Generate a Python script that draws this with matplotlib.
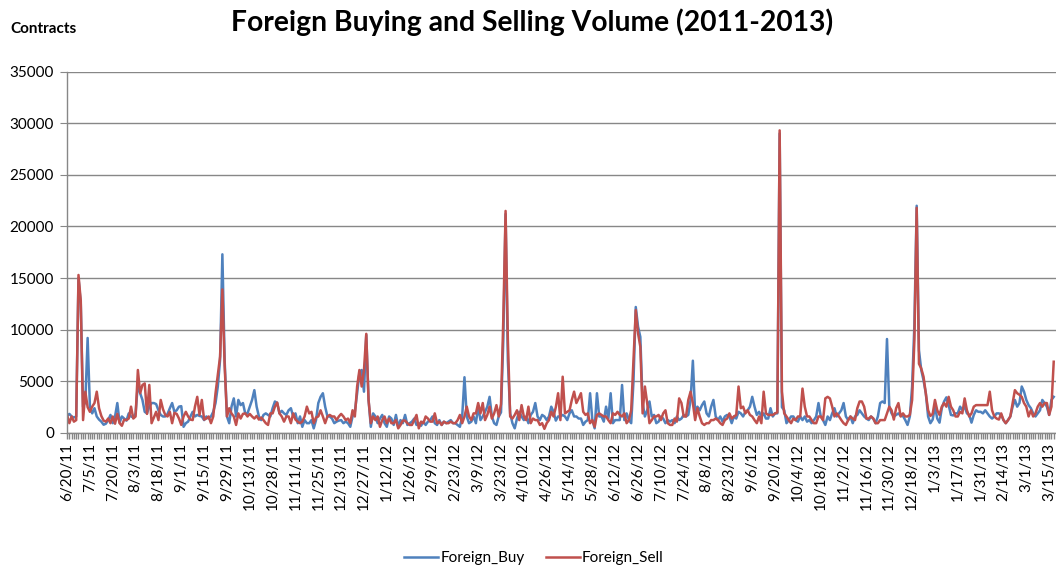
import numpy as np
import matplotlib
matplotlib.use("Agg")
import matplotlib.pyplot as plt

plt.rcParams['font.family'] = ['Lato', 'DejaVu Sans']

### data (daily contracts)

foreign_buy = [
    1650, 1850, 1600, 1500, 1600, 15000, 12500, 2550, 3000, 9200,
    2550, 1900, 2400, 1600, 1300, 1100, 800, 900, 1250, 1750,
    950, 1600, 2900, 1000, 1600, 1400, 1200, 1900, 1600, 1500,
    1900, 4800, 3850, 3200, 2050, 1900, 2550, 2900, 2900, 2800,
    2200, 1750, 1600, 1600, 1850, 2400, 2900, 2050, 2200, 2550,
    2600, 600, 950, 1100, 1600, 2050, 1600, 1750, 1650, 1600,
    1250, 1600, 1400, 1600, 2050, 2900, 4500, 7100, 17300, 7000,
    1600, 950, 2550, 3350, 1600, 3200, 2700, 2900, 1900, 1900,
    2550, 3200, 4150, 2550, 1600, 1250, 1750, 1900, 1750, 1600,
    2400, 3050, 2900, 1900, 2150, 1900, 1750, 2200, 2400, 1600,
    1900, 950, 1600, 600, 1250, 950, 950, 1250, 450, 1250,
    2900, 3500, 3850, 2550, 1600, 1600, 1400, 950, 1100, 1200,
    1250, 950, 1100, 950, 600, 1600, 2050, 3850, 5800, 6100,
    4000, 9500, 3200, 600, 1900, 1600, 950, 1400, 1750, 950,
    600, 1600, 1400, 780, 1750, 600, 1250, 950, 1750, 780,
    950, 1100, 1400, 780, 950, 700, 1100, 780, 1100, 1250,
    1600, 950, 780, 1250, 780, 1100, 950, 1100, 1250, 950,
    950, 780, 600, 1600, 5400, 1600, 950, 1100, 1600, 950,
    2550, 1250, 1600, 2050, 2550, 3500, 1600, 950, 780, 1600,
    2000, 9000, 21200, 7000, 1900, 950, 450, 1400, 2050, 1600,
    1250, 1600, 950, 1750, 2050, 2900, 1600, 1250, 1750, 1600,
    1250, 1600, 2550, 2050, 1200, 1600, 1600, 1750, 1600, 1250,
    1900, 2200, 1600, 1600, 1400, 1400, 780, 1100, 1250, 3850,
    1250, 450, 3850, 1600, 1600, 1100, 2550, 1400, 3850, 950,
    1250, 1250, 1250, 4650, 1250, 1900, 1250, 950, 5000, 12200,
    10300, 9300, 2900, 1600, 2200, 3050, 1600, 1750, 950, 1100,
    1600, 1400, 950, 1250, 1100, 1250, 950, 1600, 1250, 1400,
    1750, 1600, 1750, 3200, 7000, 1900, 2550, 2200, 2700, 3050,
    1900, 1600, 2550, 3200, 1600, 1250, 1600, 1100, 1600, 1750,
    1600, 950, 1600, 1400, 2050, 1900, 1600, 2050, 2200, 2550,
    3500, 2550, 1750, 2050, 1600, 1900, 1400, 1400, 2400, 1600,
    1900, 1900, 29000, 2500, 2200, 950, 1250, 1600, 1600, 1250,
    1100, 1600, 1250, 1600, 1100, 1250, 950, 1250, 1600, 2900,
    1600, 1250, 780, 1600, 1250, 1900, 2400, 1600, 1900, 2200,
    2900, 1600, 1250, 1600, 950, 1600, 1750, 2200, 1900, 1600,
    1400, 1250, 1600, 1400, 950, 1600, 2900, 3050, 2900, 9100,
    2550, 1900, 1600, 1750, 1900, 1650, 1650, 1250, 780, 1600,
    4500, 10500, 22000, 8000, 6100, 5100, 3850, 1600, 950, 1300,
    2550, 1400, 1000, 2400, 3050, 3450, 2700, 1750, 1700, 1900,
    1900, 2550, 2200, 2550, 1900, 1750, 1000, 1750, 2200, 2050,
    2050, 1900, 2200, 1900, 1600, 1400, 1600, 1900, 1900, 1750,
    1250, 950, 1250, 1600, 2550, 3200, 2550, 2900, 4500, 4000,
    3200, 2700, 2400, 1900, 1600, 1900, 2200, 3200, 2900, 2550,
    1750, 3200, 3500,
]

foreign_sell = [
    1750, 950, 1600, 1100, 1250, 15300, 12800, 1250, 4000, 2500,
    2050, 2550, 2900, 4000, 2400, 1650, 1200, 1100, 1400, 950,
    1600, 900, 1850, 950, 700, 1300, 1250, 1400, 2550, 1400,
    1600, 6100, 3850, 4650, 4800, 1850, 4650, 950, 1500, 2050,
    1250, 3200, 2300, 1750, 1600, 2050, 950, 1950, 1850, 1400,
    780, 1600, 2050, 1600, 1300, 1250, 2550, 3500, 1750, 3200,
    1300, 1400, 1600, 950, 1600, 3850, 5600, 7400, 13900, 6500,
    1600, 2400, 1900, 1600, 780, 1900, 1400, 1850, 1900, 1600,
    1850, 1600, 1400, 1650, 1300, 1500, 1250, 950, 780, 1900,
    1900, 2550, 2950, 1900, 1600, 1100, 1600, 1600, 950, 1900,
    1300, 1100, 950, 1100, 1600, 2550, 1900, 2050, 950, 1500,
    1600, 2200, 1600, 950, 1600, 1750, 1600, 1600, 1250, 1600,
    1850, 1600, 1250, 1400, 950, 2200, 1600, 4500, 6100, 4500,
    6100, 9600, 3200, 950, 1600, 1250, 1600, 600, 1250, 1600,
    950, 1400, 950, 950, 1250, 450, 780, 1200, 1200, 950,
    780, 780, 1250, 1750, 450, 1100, 950, 1600, 1400, 1100,
    1100, 1900, 950, 1100, 780, 1100, 950, 950, 1100, 950,
    950, 1250, 1750, 950, 1600, 2550, 1600, 1250, 1900, 1900,
    2900, 1900, 2900, 1250, 1750, 2550, 1400, 1900, 2700, 1600,
    2800, 11000, 21500, 9000, 1600, 1400, 1750, 2200, 1250, 2700,
    1600, 1250, 2550, 950, 1400, 1250, 1250, 780, 950, 400,
    950, 1250, 2050, 1600, 2500, 3850, 1250, 5450, 1900, 2050,
    2200, 3200, 4000, 2900, 3350, 3850, 2050, 1750, 1900, 950,
    1250, 600, 1750, 1900, 1750, 1600, 1600, 1250, 950, 1900,
    1750, 2050, 1750, 1600, 1900, 950, 1250, 2200, 7100, 11900,
    9650, 8350, 1900, 4500, 2900, 950, 1250, 1600, 1600, 1750,
    1250, 1900, 2200, 950, 780, 780, 1400, 1100, 3350, 2900,
    1600, 1600, 3200, 4000, 2900, 1250, 2400, 1600, 950, 780,
    950, 950, 1250, 1250, 1400, 1250, 950, 780, 1250, 1400,
    1900, 1400, 1600, 1750, 4500, 2400, 2550, 1900, 2200, 1750,
    1600, 1250, 950, 1600, 950, 4000, 1900, 1750, 1750, 1750,
    1900, 2000, 29300, 4000, 1900, 1600, 1250, 950, 1400, 1250,
    1600, 1600, 4300, 2550, 1600, 1600, 1250, 950, 950, 1600,
    1600, 1250, 3350, 3500, 3350, 2550, 1600, 1900, 1600, 1250,
    950, 780, 1250, 1600, 1400, 1250, 2400, 3050, 3050, 2550,
    1400, 1400, 1600, 1400, 950, 950, 1250, 1250, 1250, 1900,
    2550, 2200, 1300, 2400, 2900, 1600, 1900, 1600, 1600, 1750,
    3200, 9000, 21800, 6700, 6250, 5450, 3850, 2200, 1650, 1850,
    3200, 2200, 1750, 2550, 2900, 2550, 3500, 2550, 2200, 1600,
    1600, 2050, 1900, 3350, 2200, 1600, 1900, 2550, 2700, 2700,
    2700, 2700, 2700, 2700, 4000, 2200, 1600, 1400, 1300, 1900,
    1250, 950, 1250, 1600, 2900, 4150, 3850, 3700, 3500, 2900,
    2550, 1600, 2200, 1600, 1900, 2550, 2900, 2550, 2900, 2900,
    1750, 2550, 6900,
]

date_labels = [
    "6/20/11", "7/5/11", "7/20/11", "8/3/11", "8/18/11", "9/1/11",
    "9/15/11", "9/29/11", "10/13/11", "10/28/11", "11/11/11", "11/25/11",
    "12/13/11", "12/27/11", "1/12/12", "1/26/12", "2/9/12", "2/23/12",
    "3/9/12", "3/23/12", "4/10/12", "4/26/12", "5/14/12", "5/28/12",
    "6/12/12", "6/26/12", "7/10/12", "7/24/12", "8/8/12", "8/23/12",
    "9/6/12", "9/20/12", "10/4/12", "10/18/12", "11/2/12", "11/16/12",
    "11/30/12", "12/18/12", "1/3/13", "1/17/13", "1/31/13", "2/14/13",
    "3/1/13", "3/15/13",
]
label_step = 10

### figure

W, H = 1056, 569
n = len(foreign_buy)
x = np.arange(n)
grey = "#878787"

fig = plt.figure(figsize=(W/100, H/100), dpi=100)
ax = fig.add_axes([66.5/W, 1 - 433/H, 1 - 66.5/W, (433 - 71.5)/H])

ax.plot(x, foreign_buy, color="#4F81BD", lw=1.8, label="Foreign_Buy", solid_joinstyle="round")
ax.plot(x, foreign_sell, color="#C0504D", lw=1.8, label="Foreign_Sell", solid_joinstyle="round")

ax.set_ylim(0, 35000)
ax.set_yticks(np.arange(0, 35001, 5000))
ax.set_xlim(-0.25, 433)
ax.set_xticks(np.arange(0, len(date_labels) * label_step, label_step))
ax.set_xticklabels(date_labels, rotation=90, fontsize=11)
ax.set_xticks(x, minor=True)

ax.grid(axis="y", color=grey, lw=1)
ax.set_axisbelow(True)
for s in ["top", "right"]:
    ax.spines[s].set_visible(False)
for s in ["left", "bottom"]:
    ax.spines[s].set_color(grey)
    ax.spines[s].set_linewidth(1)

ax.tick_params(axis="y", colors=grey, labelcolor="black", labelsize=11, length=5, pad=4)
ax.tick_params(axis="x", which="both", colors=grey, labelcolor="black", length=4, width=1, pad=3)

fig.text(532/W, 1 - 22/H, "Foreign Buying and Selling Volume (2011-2013)",
         ha="center", va="center", fontsize=20.3, fontweight="bold")
fig.text(10/W, 1 - 29/H, "Contracts", ha="left", va="center",
         fontsize=11, fontweight="bold")

fig.legend(loc="center", bbox_to_anchor=(534/W, 11/H), ncol=2, frameon=False,
           fontsize=11, handlelength=2.2, columnspacing=1.4, handletextpad=0.15)

fig.savefig("out.png", dpi=100)
